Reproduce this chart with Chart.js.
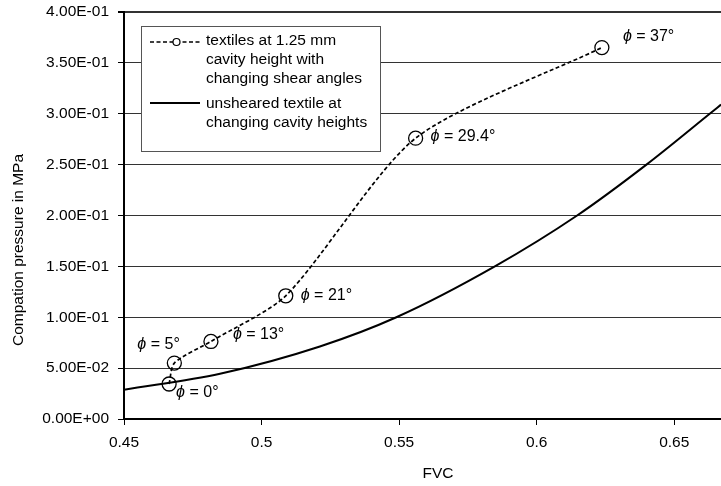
<!DOCTYPE html>
<html>
<head>
<meta charset="utf-8">
<script src="https://cdn.jsdelivr.net/npm/chart.js@4.4.0/dist/chart.umd.min.js"></script>
<style>
  html, body { margin: 0; padding: 0; background: #fff; overflow: hidden; }
  canvas { display: block; }
</style>
</head>
<body>
<canvas id="myChart" width="721" height="486"></canvas>
<script>
// values
const shearFVC = [0.4664, 0.4683, 0.4816, 0.5088, 0.556, 0.6237];
const shearPressure = [0.0344, 0.055, 0.0762, 0.1211, 0.276, 0.365];
const shearAngles = ['0°', '5°', '13°', '21°', '29.4°', '37°'];

const heightFVC = [0.45, 0.4849, 0.5212, 0.549, 0.5848, 0.6147, 0.6399, 0.6629, 0.667];
const heightPressure = [0.0288, 0.0445, 0.0713, 0.1, 0.15, 0.2, 0.25, 0.3, 0.309];

const xTicks = [0.45, 0.5, 0.55, 0.6, 0.65];
const yTicks = [0, 0.05, 0.1, 0.15, 0.2, 0.25, 0.3, 0.35, 0.4];

const xTitle = 'FVC';
const yTitle = 'Compation pressure in MPa';
const legendShear = ['textiles at 1.25 mm', 'cavity height with', 'changing shear angles'];
const legendHeight = ['unsheared textile at', 'changing cavity heights'];

// where each angle label sits relative to its marker (px)
const labelOffsets = [[7, 9], [-37, -18], [22, -7], [15, 0], [15, -2], [21, -11]];

const FONT = "'Liberation Sans', Arial, sans-serif";
Chart.defaults.font.family = FONT;
Chart.defaults.font.size = 15.5;
Chart.defaults.color = '#000';

function sci(v) {
    if (v === 0) return '0.00E+00';
    const e = Math.floor(Math.log10(Math.abs(v)) + 1e-9);
    const m = v / Math.pow(10, e);
    const es = (e < 0 ? '-' : '+') + String(Math.abs(e)).padStart(2, '0');
    return m.toFixed(2) + 'E' + es;
}

const extras = {
    id: 'extras',
    afterDatasetsDraw(chart) {
        const ctx = chart.ctx;
        const xs = chart.scales.x, ys = chart.scales.y;
        const area = chart.chartArea;
        ctx.save();
        ctx.fillStyle = '#000';
        ctx.textBaseline = 'middle';
        ctx.textAlign = 'left';

        // angle labels
        shearFVC.forEach((fvc, i) => {
            const px = xs.getPixelForValue(fvc) + labelOffsets[i][0];
            const py = ys.getPixelForValue(shearPressure[i]) + labelOffsets[i][1];
            ctx.font = 'italic 16px ' + FONT;
            ctx.fillText('ϕ', px, py);
            const w = ctx.measureText('ϕ').width;
            ctx.font = '16px ' + FONT;
            ctx.fillText(' = ' + shearAngles[i], px + w, py);
        });

        // axis titles
        ctx.font = '15.5px ' + FONT;
        ctx.textAlign = 'center';
        ctx.fillText(xTitle, area.left + 314, 474);
        ctx.save();
        ctx.translate(19, area.top + 238);
        ctx.rotate(-Math.PI / 2);
        ctx.fillText(yTitle, 0, 0);
        ctx.restore();
        ctx.textAlign = 'left';

        // legend box
        const lx = area.left + 17, ly = area.top + 14;
        ctx.fillStyle = '#fff';
        ctx.fillRect(lx, ly, 239, 125);
        ctx.strokeStyle = '#555';
        ctx.lineWidth = 1;
        ctx.strokeRect(lx + 0.5, ly + 0.5, 239, 125);

        ctx.strokeStyle = '#000';
        ctx.lineWidth = 1.7;
        ctx.setLineDash([4, 2.5]);
        ctx.beginPath();
        ctx.moveTo(lx + 9, ly + 16);
        ctx.lineTo(lx + 59, ly + 16);
        ctx.stroke();
        ctx.setLineDash([]);
        ctx.fillStyle = '#fff';
        ctx.lineWidth = 1.2;
        ctx.beginPath();
        ctx.arc(lx + 35.5, ly + 16, 3.5, 0, Math.PI * 2);
        ctx.fill();
        ctx.stroke();

        ctx.lineWidth = 2;
        ctx.beginPath();
        ctx.moveTo(lx + 9, ly + 77);
        ctx.lineTo(lx + 59, ly + 77);
        ctx.stroke();

        ctx.fillStyle = '#000';
        ctx.font = '15.5px ' + FONT;
        legendShear.forEach((t, i) => ctx.fillText(t, lx + 65, ly + 15 + i * 19));
        legendHeight.forEach((t, i) => ctx.fillText(t, lx + 65, ly + 78 + i * 19));
        ctx.restore();
    }
};

new Chart(document.getElementById('myChart'), {
    type: 'line',
    data: {
        datasets: [
            {
                label: 'unsheared textile at changing cavity heights',
                data: heightFVC.map((x, i) => ({ x, y: heightPressure[i] })),
                borderColor: '#000',
                borderWidth: 2,
                pointRadius: 0,
                cubicInterpolationMode: 'monotone',
                fill: false
            },
            {
                label: 'textiles at 1.25 mm cavity height with changing shear angles',
                data: shearFVC.map((x, i) => ({ x, y: shearPressure[i] })),
                borderColor: '#000',
                borderWidth: 1.7,
                borderDash: [4, 2.5],
                tension: 0.25,
                pointRadius: 7,
                pointBorderWidth: 1.3,
                pointBorderColor: '#000',
                pointBackgroundColor: 'rgba(0,0,0,0)',
                fill: false
            }
        ]
    },
    options: {
        responsive: false,
        animation: false,
        layout: { autoPadding: false, padding: { top: 12, right: 0, left: 0, bottom: 0 } },
        plugins: { legend: { display: false }, tooltip: { enabled: false } },
        scales: {
            x: {
                type: 'linear',
                min: 0.45,
                max: 0.667,
                afterBuildTicks: s => { s.ticks = xTicks.map(v => ({ value: v })); },
                afterFit: s => { s.height = 67; s.paddingRight = 0; },
                grid: { drawOnChartArea: false, drawTicks: true, tickLength: 6, tickColor: '#000' },
                border: { color: '#000', width: 2 },
                ticks: { padding: 8, callback: v => String(v) }
            },
            y: {
                min: 0,
                max: 0.4,
                afterBuildTicks: s => { s.ticks = yTicks.map(v => ({ value: v })); },
                afterFit: s => { s.width = 124; s.paddingTop = 0; s.paddingBottom = 0; },
                grid: {
                    color: '#333',
                    lineWidth: c => (c.tick && c.tick.value === 0.4 ? 2 : 1),
                    tickLength: 6,
                    tickColor: '#000'
                },
                border: { color: '#000', width: 2 },
                ticks: { padding: 9, callback: v => sci(v) }
            }
        }
    },
    plugins: [extras]
});
</script>
</body>
</html>
